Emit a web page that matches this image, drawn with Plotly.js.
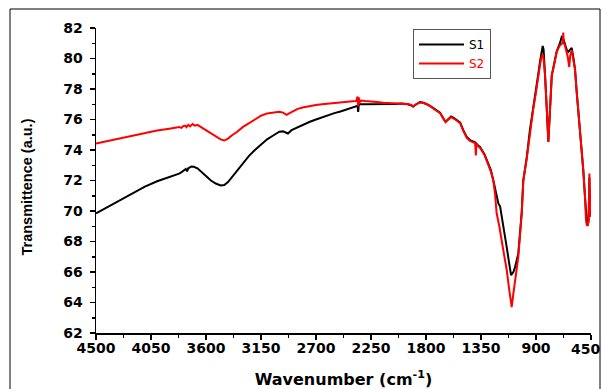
<!DOCTYPE html>
<html>
<head>
<meta charset="utf-8">
<script src="https://cdn.plot.ly/plotly-3.0.1.min.js"></script>
<style>html,body{margin:0;padding:0;background:#fff;}#chart{width:602px;height:389px;}</style>
</head>
<body>
<div id="chart"></div>
<script>
// Wavenumber (cm-1) and transmittance values
const s1Wave = [4500,4400,4300,4200,4100,4000,3900,3850,3820,3800,3780,3765,3755,3745,3720,3700,3670,3640,3600,3560,3520,3480,3450,3420,3390,3350,3300,3250,3200,3150,3100,3050,3000,2970,2950,2930,2900,2850,2800,2750,2700,2650,2600,2550,2500,2450,2400,2370,2360,2355,2350,2340,2300,2250,2200,2150,2100,2050,2000,
  1950,1920,1905,1880,1850,1820,1790,1767,1740,1710,1685,1660,1640,1620,1595,1570,1540,1520,1495,1466,1440,1420,1398,1380,1358,1320,1290,1270,1249,1230,1208,1194,1170,1139,1120,1104,1085,1072,1045,1017,1004,976,950,922,900,881,865,853,845,838,832,826,812,799,785,771,758,745,731,715,704,690,680,665,650,636,622,608,595,581,567,554,540,526,513,499,491,483,477,470,466,463,460,455,450];
const s1Trans = [69.85,70.3,70.75,71.2,71.6,71.95,72.2,72.35,72.45,72.55,72.7,72.75,72.6,72.8,72.92,72.9,72.8,72.6,72.3,72.0,71.8,71.68,71.7,71.9,72.2,72.6,73.1,73.6,74.0,74.35,74.7,74.95,75.2,75.22,75.15,75.08,75.3,75.5,75.65,75.85,76.0,76.15,76.3,76.42,76.52,76.65,76.78,76.85,76.9,76.5,76.95,77.0,77.0,77.02,77.0,77.02,77.0,77.02,77.05,
  77.0,76.92,76.85,77.0,77.15,77.1,77.0,76.9,76.75,76.6,76.45,76.1,75.85,76.0,76.2,76.1,75.95,75.8,75.3,74.85,74.65,74.6,74.5,74.35,74.2,73.7,73.1,72.7,72.0,71.3,70.5,70.3,69.2,67.6,66.6,65.8,66.0,66.3,67.2,69.9,72.0,73.5,75.3,76.7,77.9,79.0,79.9,80.5,80.82,80.6,79.9,78.9,76.7,74.55,76.7,78.9,79.4,80.0,80.45,80.8,81.0,81.41,81.35,81.0,80.6,80.43,80.55,80.7,80.1,79.3,77.8,76.6,75.6,74.3,72.66,70.92,69.5,69.1,69.1,69.4,70.6,72.2,71.0,69.9,69.7];

const s2Wave = [4500,4400,4300,4200,4100,4000,3900,3850,3820,3800,3790,3770,3760,3745,3730,3710,3690,3670,3640,3600,3560,3520,3480,3450,3420,3390,3347,3300,3250,3200,3150,3100,3050,3000,2970,2940,2920,2880,2850,2800,2750,2700,2650,2600,2550,2500,2450,2400,2370,2360,2355,2350,2345,2330,2300,2250,2200,2150,2100,2050,2000,
  1950,1920,1905,1880,1850,1820,1790,1767,1740,1710,1685,1660,1640,1620,1595,1570,1540,1520,1495,1466,1440,1420,1398,1392,1388,1380,1358,1320,1290,1270,1249,1235,1222,1200,1172,1139,1120,1104,1099,1085,1072,1045,1017,1004,976,950,922,900,881,865,853,845,838,832,826,812,799,785,771,758,745,731,715,704,690,680,677,673,665,650,640,628,620,608,595,581,567,554,540,526,513,499,491,483,477,470,466,463,460,455,450];
const s2Trans = [74.42,74.6,74.75,74.95,75.12,75.28,75.4,75.45,75.5,75.45,75.55,75.6,75.5,75.65,75.55,75.7,75.6,75.65,75.5,75.3,75.05,74.85,74.7,74.62,74.75,74.95,75.18,75.5,75.75,76.05,76.25,76.4,76.45,76.5,76.45,76.3,76.4,76.6,76.7,76.8,76.9,76.95,77.0,77.05,77.1,77.12,77.15,77.2,77.22,77.5,76.85,77.45,77.1,77.25,77.22,77.2,77.15,77.1,77.08,77.06,77.05,
  77.02,76.95,76.85,77.0,77.12,77.08,77.0,76.88,76.72,76.58,76.42,76.08,75.82,75.98,76.15,76.05,75.9,75.75,75.25,74.8,74.6,74.55,74.45,73.65,74.4,74.3,74.15,73.65,73.05,72.6,72.0,71.1,69.85,69.0,67.64,66.1,64.9,63.7,63.7,64.6,65.45,66.98,69.83,72.0,73.44,75.2,76.71,77.8,78.9,79.7,80.15,80.26,80.0,79.5,78.9,76.71,74.52,76.71,78.9,79.34,79.9,80.43,80.7,80.87,80.95,81.1,81.7,81.0,80.9,80.5,80.1,79.44,80.2,80.54,80.0,79.3,77.8,76.6,75.6,74.3,72.66,70.9,69.4,69.06,69.06,69.3,70.5,72.45,71.0,69.8,69.6];

const xTicks = [4500,4050,3600,3150,2700,2250,1800,1350,900,450];
const xTickText = ['4500','4050','3600','3150','2700','2250','1800','1350','900',''];
const lastXTickLabel = '450';
const yTicks = [62,64,66,68,70,72,74,76,78,80,82];

const L = 96, R = 591, T = 28, B = 333, W = 602, H = 389;
const px = v => (v - L) / (R - L);
const py = v => (B - v) / (B - T);

const traces = [
  {x: s1Wave, y: s1Trans, type: 'scatter', mode: 'lines', name: 'S1',
   line: {color: '#000000', width: 2}},
  {x: s2Wave, y: s2Trans, type: 'scatter', mode: 'lines', name: '<span style="color:#ff0000">S2</span>',
   line: {color: '#ff0000', width: 2}}
];

const tickFont = {family: 'DejaVu Sans', size: 14, weight: 'bold', color: '#000'};

const layout = {
  width: W, height: H,
  margin: {l: L, r: W - R, t: T, b: H - B, pad: 0},
  paper_bgcolor: '#fff', plot_bgcolor: '#fff',
  showlegend: true,
  legend: {x: px(413), y: py(29), xanchor: 'left', yanchor: 'top',
    bgcolor: '#fff', bordercolor: '#555', borderwidth: 1,
    font: {family: 'DejaVu Sans', size: 12, color: '#000'},
    itemwidth: 45, tracegroupgap: 0},
  xaxis: {range: [4500, 450], tickmode: 'array', tickvals: xTicks, ticktext: xTickText,
    showline: true, linecolor: '#000', linewidth: 1.5, mirror: false,
    ticks: 'outside', ticklen: 5, tickwidth: 1.5, tickcolor: '#000',
    minor: {tickmode: 'linear', tick0: 450, dtick: 225, ticks: 'outside', ticklen: 3, tickwidth: 1.5, tickcolor: '#000', showgrid: false},
    showgrid: false, zeroline: false, tickfont: tickFont, ticklabelstandoff: -3,
    title: {text: 'Wavenumber (cm<sup>-1</sup>)', font: {family: 'DejaVu Sans', size: 16, weight: 'bold', color: '#000'}, standoff: 19}},
  yaxis: {range: [62, 82], tickmode: 'array', tickvals: yTicks, ticktext: yTicks.map(String),
    showline: true, linecolor: '#000', linewidth: 1.5, mirror: false,
    ticks: 'outside', ticklen: 5, tickwidth: 1.5, tickcolor: '#000',
    minor: {tickmode: 'linear', tick0: 62, dtick: 1, ticks: 'outside', ticklen: 3, tickwidth: 1.5, tickcolor: '#000', showgrid: false},
    showgrid: false, zeroline: false, tickfont: tickFont, ticklabelstandoff: 4},
  annotations: [
    {text: 'Transmittence (a.u.)', xref: 'paper', yref: 'paper', x: px(27), y: py(187.5),
     xanchor: 'center', yanchor: 'middle', textangle: -90, showarrow: false,
     font: {family: 'Liberation Sans', size: 14.5, weight: 'bold', color: '#000'}},
    {text: lastXTickLabel, xref: 'paper', yref: 'paper', x: px(601), y: py(349),
     xanchor: 'right', yanchor: 'middle', showarrow: false, borderpad: 0,
     font: tickFont}
  ],
  shapes: [
    {type: 'rect', xref: 'paper', yref: 'paper', x0: px(10), x1: px(600), y0: py(395), y1: py(9),
     line: {color: '#000', width: 1}, fillcolor: 'rgba(0,0,0,0)', layer: 'below'}
  ]
};

Plotly.newPlot('chart', traces, layout, {staticPlot: true, displayModeBar: false});
</script>
</body>
</html>
